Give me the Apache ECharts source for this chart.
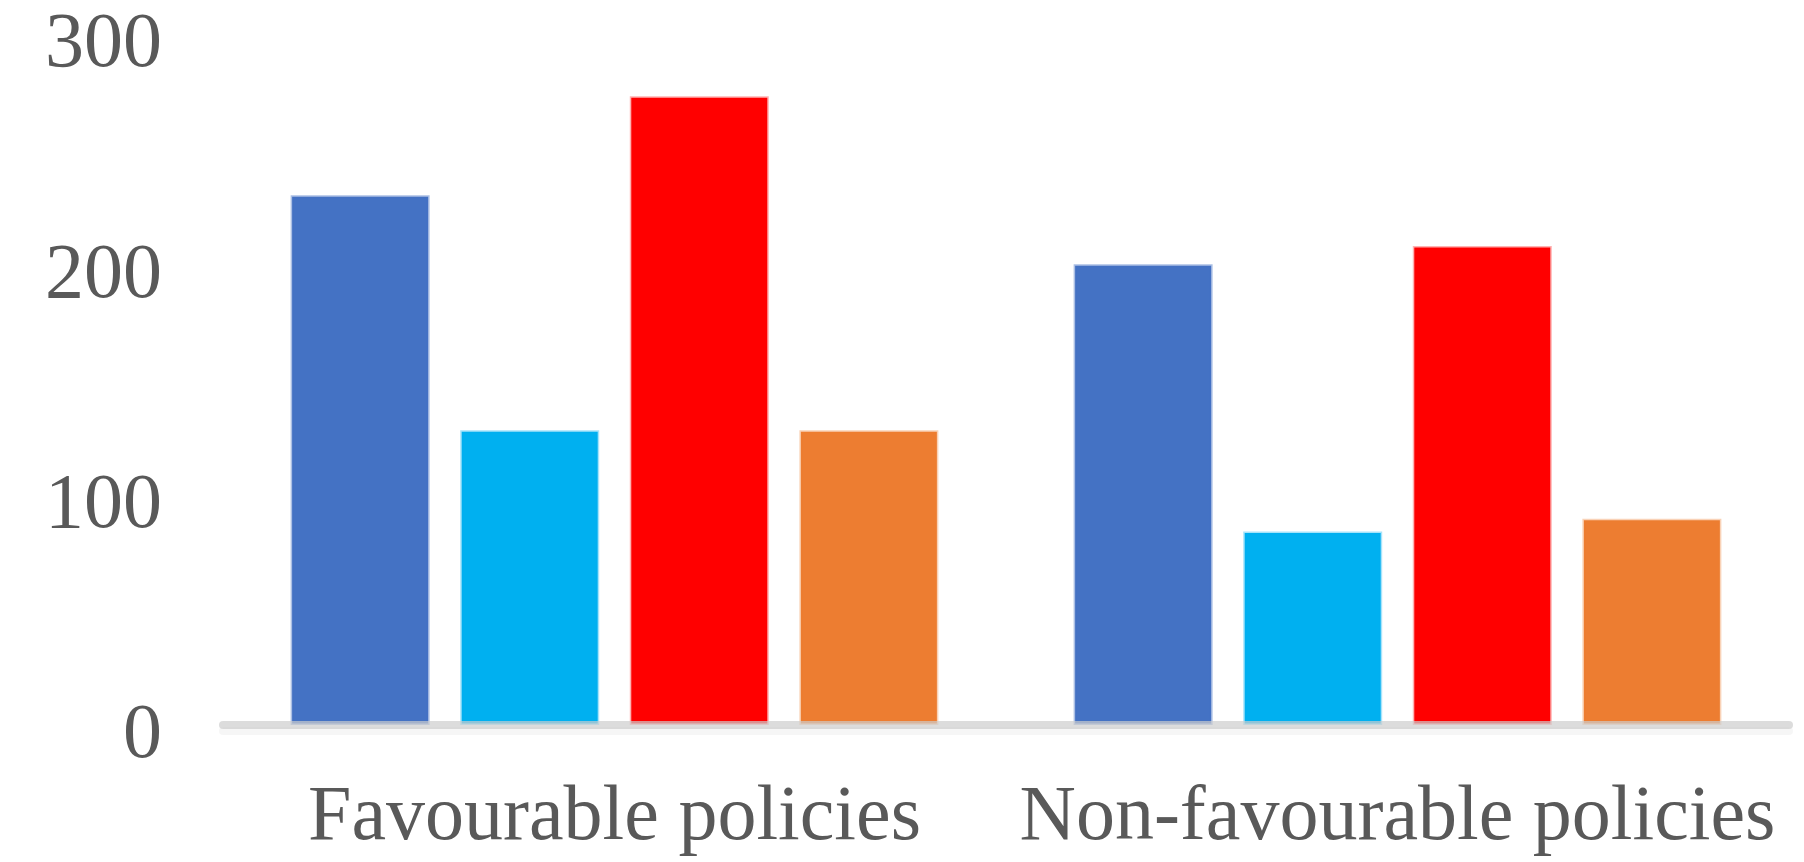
<!DOCTYPE html>
<html lang="en" style="height:100%;">
<head>
    <meta charset="UTF-8">
    <title>Favourable vs non-favourable policies</title>
    <script src="https://cdn.jsdelivr.net/npm/echarts@6/dist/echarts.min.js"></script>
</head>
<body style="height:100%;margin:0;background:#fff;">
<div id="main" style="width:1804px;height:862px;position:absolute;left:0;top:0;"></div>

<script type="text/javascript">
    // data
    var categories = ['Favourable policies', 'Non-favourable policies'];
    var seriesA = [230, 200];   // dark blue
    var seriesB = [128, 84];    // light blue
    var seriesC = [273, 208];   // red
    var seriesD = [128, 89.5];  // orange
    var yTicks = [0, 100, 200, 300];

    var colors = ['#4472C4', '#00B0F0', '#FF0000', '#ED7D31'];
    var edges = ['rgba(68,114,196,0.45)', 'rgba(0,176,240,0.35)', 'rgba(255,0,0,0.3)', 'rgba(237,125,49,0.35)'];
    var font = "'Liberation Serif', 'Times New Roman', serif";

    function barSeries(name, data, i) {
        return {
            name: name,
            type: 'bar',
            data: data,
            barWidth: 139,
            barGap: '22%',
            itemStyle: {
                color: colors[i],
                borderColor: edges[i],
                borderWidth: 3
            }
        };
    }

    var myChart = echarts.init(document.getElementById('main'));
    var option = {
        backgroundColor: '#ffffff',
        animation: false,
        grid: {
            left: 223,
            right: 15,
            top: 34,
            bottom: 137
        },
        xAxis: {
            type: 'category',
            data: categories,
            z: 5,
            axisLine: {
                lineStyle: {
                    color: 'rgba(205,205,205,0.7)',
                    width: 8,
                    shadowColor: '#f2f2f2',
                    shadowOffsetY: 6
                }
            },
            axisTick: {show: false},
            axisLabel: {
                interval: 0,
                hideOverlap: false,
                margin: 55,
                fontFamily: font,
                fontSize: 78,
                color: '#595959'
            }
        },
        yAxis: {
            type: 'value',
            min: yTicks[0],
            max: yTicks[yTicks.length - 1],
            interval: 100,
            axisLine: {show: false},
            axisTick: {show: false},
            splitLine: {show: false},
            axisLabel: {
                margin: 61,
                fontFamily: font,
                fontSize: 78,
                color: '#595959',
                verticalAlign: 'top',
                lineHeight: 24
            }
        },
        series: [
            barSeries('A', seriesA, 0),
            barSeries('B', seriesB, 1),
            barSeries('C', seriesC, 2),
            barSeries('D', seriesD, 3)
        ]
    };
    myChart.setOption(option);
</script>
</body>
</html>
